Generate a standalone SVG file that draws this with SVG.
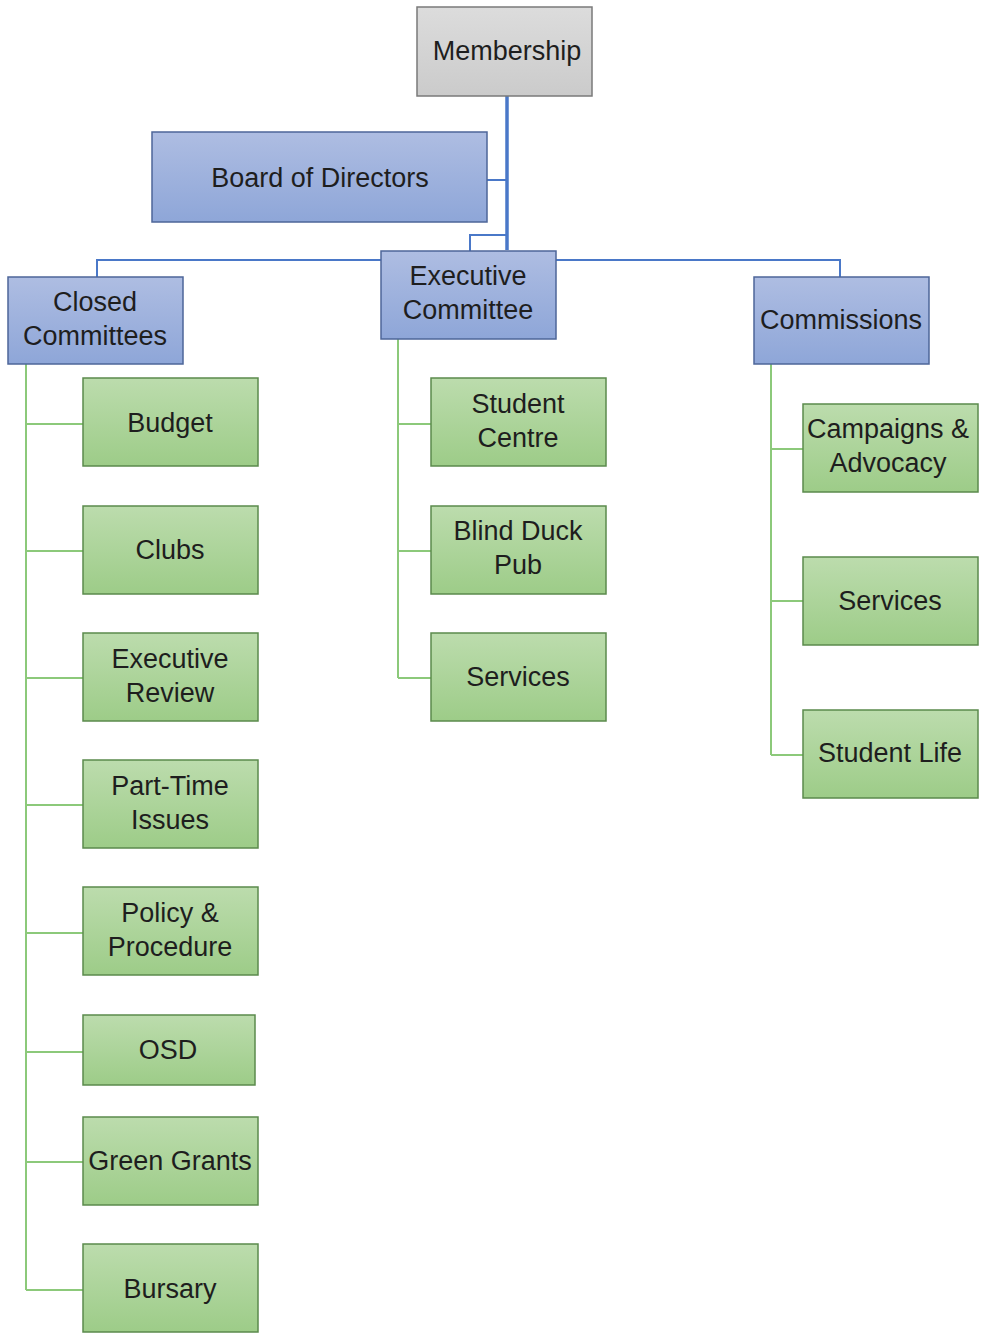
<svg xmlns="http://www.w3.org/2000/svg" width="981" height="1333" viewBox="0 0 981 1333">
<defs>
<linearGradient id="gGray" x1="0" y1="0" x2="0" y2="1"><stop offset="0" stop-color="#dcdcdc"/><stop offset="1" stop-color="#cbcbcb"/></linearGradient>
<linearGradient id="gBlue" x1="0" y1="0" x2="0" y2="1"><stop offset="0" stop-color="#aebde2"/><stop offset="1" stop-color="#8ea6d8"/></linearGradient>
<linearGradient id="gGreen" x1="0" y1="0" x2="0" y2="1"><stop offset="0" stop-color="#bcdcad"/><stop offset="1" stop-color="#9dcc88"/></linearGradient>
</defs>
<style>
.gray{fill:url(#gGray);stroke:#7a7a7a;stroke-width:1.5}
.blue{fill:url(#gBlue);stroke:#4d6699;stroke-width:1.5}
.green{fill:url(#gGreen);stroke:#5b8a4c;stroke-width:1.5}
text{font-family:"Liberation Sans",Arial,sans-serif;font-size:27px;fill:#1e1e1e;text-anchor:middle}
.bl{stroke:#4a78c8;fill:none;stroke-width:2}
.bl.main{stroke-width:3.5}
.gl{stroke:#8cc97a;fill:none;stroke-width:2}
</style>
<g id="connectors">
<path class="bl main" d="M507 96V250"/>
<path class="bl" d="M487 180H507"/>
<path class="bl" d="M507 235H470V251"/>
<path class="bl" d="M97 277V260H840V277"/>
<path class="gl" d="M26 364V1290M26 424H83M26 551H83M26 678H83M26 805H83M26 933H83M26 1052H83M26 1162H83M26 1290H83"/>
<path class="gl" d="M398 339V678M398 424H431M398 551H431M398 678H431"/>
<path class="gl" d="M771 364V755M771 449H803M771 601H803M771 755H803"/>
</g>
<g id="membership"><rect class="gray" x="417" y="7" width="175" height="89"/><text x="507" y="60">Membership</text></g>
<g id="board"><rect class="blue" x="152" y="132" width="335" height="90"/><text x="320" y="187">Board of Directors</text></g>
<g id="closed"><rect class="blue" x="8" y="277" width="175" height="87"/><text x="95" y="311">Closed</text><text x="95" y="345">Committees</text></g>
<g id="exec"><rect class="blue" x="381" y="251" width="175" height="88"/><text x="468" y="285">Executive</text><text x="468" y="319">Committee</text></g>
<g id="commissions"><rect class="blue" x="754" y="277" width="175" height="87"/><text x="841" y="329">Commissions</text></g>
<g id="budget"><rect class="green" x="83" y="378" width="175" height="88"/><text x="170" y="432">Budget</text></g>
<g id="clubs"><rect class="green" x="83" y="506" width="175" height="88"/><text x="170" y="559">Clubs</text></g>
<g id="execreview"><rect class="green" x="83" y="633" width="175" height="88"/><text x="170" y="668">Executive</text><text x="170" y="702">Review</text></g>
<g id="parttime"><rect class="green" x="83" y="760" width="175" height="88"/><text x="170" y="795">Part-Time</text><text x="170" y="829">Issues</text></g>
<g id="policy"><rect class="green" x="83" y="887" width="175" height="88"/><text x="170" y="922">Policy &amp;</text><text x="170" y="956">Procedure</text></g>
<g id="osd"><rect class="green" x="83" y="1015" width="172" height="70"/><text x="168" y="1059">OSD</text></g>
<g id="greengrants"><rect class="green" x="83" y="1117" width="175" height="88"/><text x="170" y="1170">Green Grants</text></g>
<g id="bursary"><rect class="green" x="83" y="1244" width="175" height="88"/><text x="170" y="1298">Bursary</text></g>
<g id="studentcentre"><rect class="green" x="431" y="378" width="175" height="88"/><text x="518" y="413">Student</text><text x="518" y="447">Centre</text></g>
<g id="blindduck"><rect class="green" x="431" y="506" width="175" height="88"/><text x="518" y="540">Blind Duck</text><text x="518" y="574">Pub</text></g>
<g id="services1"><rect class="green" x="431" y="633" width="175" height="88"/><text x="518" y="686">Services</text></g>
<g id="campaigns"><rect class="green" x="803" y="404" width="175" height="88"/><text x="888" y="438">Campaigns &amp;</text><text x="888" y="472">Advocacy</text></g>
<g id="services2"><rect class="green" x="803" y="557" width="175" height="88"/><text x="890" y="610">Services</text></g>
<g id="studentlife"><rect class="green" x="803" y="710" width="175" height="88"/><text x="890" y="762">Student Life</text></g>
</svg>
